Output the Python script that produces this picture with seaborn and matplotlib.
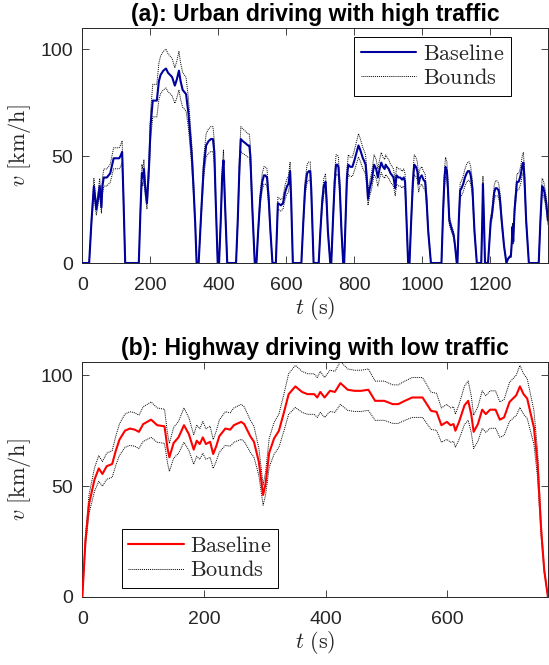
import matplotlib
matplotlib.use("Agg")
import matplotlib.pyplot as plt
import pandas as pd
import seaborn as sns

# ---------------- (a) urban driving ----------------
t_urban = [0, 20, 27, 34, 41, 46, 51, 56, 59, 63, 72, 82, 92, 100, 108, 112, 117, 121, 126,
           166, 171, 175, 178, 181, 185, 190, 196, 201, 207, 219, 225, 230, 238, 246, 252, 258, 264, 268, 272, 278, 284, 289, 295, 300, 305, 312, 317, 322, 327, 332, 336,
           342, 350, 357, 364, 371, 378, 384, 388, 392, 398,
           402, 407, 411, 415, 419, 426,
           452, 457, 462, 466, 472, 480, 487, 491, 494, 500, 507,
           512, 517, 523, 529, 534, 538, 543, 548, 553, 559,
           569, 575, 584, 590, 596, 602, 606, 611, 614, 619,
           644, 650, 655, 661, 666, 670, 673, 677, 680,
           695, 700, 705, 710, 715, 718, 722, 729,
           732, 737, 742, 746, 750, 753, 757, 762, 767,
           770, 775, 778, 782, 788, 794, 800, 807, 812, 817, 821, 825, 828, 833, 837, 840, 845, 850, 858, 864, 869, 874, 879, 884, 889, 892, 896, 901, 906, 911, 915, 918, 920, 924, 930, 935, 940, 945, 949, 952, 958,
           962, 967, 972, 976, 981, 985, 989, 993, 998, 1003, 1008, 1012, 1017, 1025,
           1056, 1061, 1065, 1068, 1072, 1075, 1079, 1084, 1088, 1092, 1096, 1101,
           1103, 1107, 1111, 1115, 1120, 1125, 1130, 1134, 1138, 1142, 1147, 1153, 1160,
           1173, 1176, 1178, 1181, 1184,
           1193, 1197, 1201, 1204, 1208, 1211, 1215, 1219, 1224, 1228, 1233, 1240, 1247,
           1252, 1257, 1260, 1263, 1265, 1267, 1271, 1278, 1283, 1287, 1290, 1294, 1297, 1300, 1305, 1313,
           1342, 1347, 1352, 1356, 1360, 1364, 1369]
v_urban = [0, 0, 20, 36, 25, 30, 36, 26, 36, 40, 40, 42, 49, 49, 49, 50, 52, 30, 0,
           0, 25, 42, 40, 44, 35, 28, 45, 65, 76, 76, 85, 88, 90, 91, 89, 88, 87, 85, 83, 86, 90, 85, 81, 80, 79, 70, 60, 50, 35, 18, 0,
           0, 25, 45, 55, 57, 58, 58, 52, 30, 0,
           0, 20, 40, 48, 30, 0,
           0, 20, 45, 58, 57, 56, 55, 55, 50, 25, 0,
           0, 15, 30, 38, 41, 41, 40, 30, 15, 0,
           0, 28, 27, 28, 33, 36, 37, 43, 30, 0,
           0, 20, 35, 42, 43, 43, 35, 15, 0,
           0, 15, 28, 36, 38, 30, 15, 0,
           0, 20, 38, 46, 46, 45, 35, 15, 0,
           0, 25, 40, 46, 45, 45, 48, 52, 55, 53, 51, 49, 48, 46, 38, 30, 35, 38, 46, 44, 40, 44, 47, 45, 44, 46, 45, 44, 42, 41, 40, 37, 35, 41, 40, 40, 39, 40, 38, 25, 0,
           0, 20, 38, 46, 45, 43, 37, 40, 41, 39, 38, 30, 15, 0,
           0, 25, 40, 45, 43, 35, 20, 17, 15, 13, 8, 0,
           0, 20, 34, 35, 37, 40, 42, 43, 43, 41, 35, 15, 0,
           0, 20, 37, 20, 0,
           0, 10, 20, 22, 28, 33, 35, 35, 34, 30, 20, 8, 0,
           2, 3, 3, 10, 17, 10, 25, 38, 38, 40, 42, 46, 47, 40, 20, 0,
           0, 20, 36, 35, 32, 28, 20]
hi_urban = [0, 0, 22, 39.6, 27.5, 33, 39.6, 28.6, 39.6, 44, 44, 46.2, 53.9, 53.9, 53.9, 55, 57.2, 33, 0,
            0, 27.5, 46.2, 44, 48.4, 38.5, 30.8, 49.5, 71.5, 83.6, 83.6, 93.5, 96.8, 99, 100.1, 97.9, 96.8, 95.7, 93.5, 91.3, 94.6, 99, 93.5, 89.1, 88, 86.9, 77, 66, 55, 38.5, 19.8, 0,
            0, 27.5, 49.5, 60.5, 62.7, 63.8, 63.8, 57.2, 33, 0,
            0, 22, 44, 52.8, 33, 0,
            0, 22, 49.5, 63.8, 62.7, 61.6, 60.5, 60.5, 55, 27.5, 0,
            0, 16.5, 33, 41.8, 45.1, 45.1, 44, 33, 16.5, 0,
            0, 30.8, 29.7, 30.8, 36.3, 39.6, 40.7, 47.3, 33, 0,
            0, 22, 38.5, 46.2, 47.3, 47.3, 38.5, 16.5, 0,
            0, 16.5, 30.8, 39.6, 41.8, 33, 16.5, 0,
            0, 22, 41.8, 50.6, 50.6, 49.5, 38.5, 16.5, 0,
            0, 27.5, 44, 50.6, 49.5, 49.5, 52.8, 57.2, 60.5, 58.3, 56.1, 53.9, 52.8, 50.6, 41.8, 33, 38.5, 41.8, 50.6, 48.4, 44, 48.4, 51.7, 49.5, 48.4, 50.6, 49.5, 48.4, 46.2, 45.1, 44, 40.7, 38.5, 45.1, 44, 44, 42.9, 44, 41.8, 27.5, 0,
            0, 22, 41.8, 50.6, 49.5, 47.3, 40.7, 44, 45.1, 42.9, 41.8, 33, 16.5, 0,
            0, 27.5, 44, 49.5, 47.3, 38.5, 22, 18.7, 16.5, 14.3, 8.8, 0,
            0, 22, 37.4, 38.5, 40.7, 44, 46.2, 47.3, 47.3, 45.1, 38.5, 16.5, 0,
            0, 22, 40.7, 22, 0,
            0, 11, 22, 24.2, 30.8, 36.3, 38.5, 38.5, 37.4, 33, 22, 8.8, 0,
            2.2, 3.3, 3.3, 11, 18.7, 11, 27.5, 41.8, 41.8, 44, 46.2, 50.6, 51.7, 44, 22, 0,
            0, 22, 39.6, 38.5, 35.2, 30.8, 22]
lo_urban = [0, 0, 18, 32.4, 22.5, 27, 32.4, 23.4, 32.4, 36, 36, 37.8, 44.1, 44.1, 44.1, 45, 46.8, 27, 0,
            0, 22.5, 37.8, 36, 39.6, 31.5, 25.2, 40.5, 58.5, 68.4, 68.4, 76.5, 79.2, 81, 81.9, 80.1, 79.2, 78.3, 76.5, 74.7, 77.4, 81, 76.5, 72.9, 72, 71.1, 63, 54, 45, 31.5, 16.2, 0,
            0, 22.5, 40.5, 49.5, 51.3, 52.2, 52.2, 46.8, 27, 0,
            0, 18, 36, 43.2, 27, 0,
            0, 18, 40.5, 52.2, 51.3, 50.4, 49.5, 49.5, 45, 22.5, 0,
            0, 13.5, 27, 34.2, 36.9, 36.9, 36, 27, 13.5, 0,
            0, 25.2, 24.3, 25.2, 29.7, 32.4, 33.3, 38.7, 27, 0,
            0, 18, 31.5, 37.8, 38.7, 38.7, 31.5, 13.5, 0,
            0, 13.5, 25.2, 32.4, 34.2, 27, 13.5, 0,
            0, 18, 34.2, 41.4, 41.4, 40.5, 31.5, 13.5, 0,
            0, 22.5, 36, 41.4, 40.5, 40.5, 43.2, 46.8, 49.5, 47.7, 45.9, 44.1, 43.2, 41.4, 34.2, 27, 31.5, 34.2, 41.4, 39.6, 36, 39.6, 42.3, 40.5, 39.6, 41.4, 40.5, 39.6, 37.8, 36.9, 36, 33.3, 31.5, 36.9, 36, 36, 35.1, 36, 34.2, 22.5, 0,
            0, 18, 34.2, 41.4, 40.5, 38.7, 33.3, 36, 36.9, 35.1, 34.2, 27, 13.5, 0,
            0, 22.5, 36, 40.5, 38.7, 31.5, 18, 15.3, 13.5, 11.7, 7.2, 0,
            0, 18, 30.6, 31.5, 33.3, 36, 37.8, 38.7, 38.7, 36.9, 31.5, 13.5, 0,
            0, 18, 33.3, 18, 0,
            0, 9, 18, 19.8, 25.2, 29.7, 31.5, 31.5, 30.6, 27, 18, 7.2, 0,
            1.8, 2.7, 2.7, 9, 15.3, 9, 22.5, 34.2, 34.2, 36, 37.8, 41.4, 42.3, 36, 18, 0,
            0, 18, 32.4, 31.5, 28.8, 25.2, 18]

# ---------------- (b) highway driving ----------------
t_hwy = [0, 5, 11, 20, 27, 33, 40, 49, 55, 61, 70, 78, 86, 93, 100, 113, 123, 135, 140, 143,
         150, 158, 167, 175, 183, 188, 193, 198, 203, 210, 215, 220, 225, 235, 243, 249, 261, 266, 276, 282,
         290, 297, 301, 307, 315, 323, 331, 339, 350, 361, 370, 381, 386, 391, 398, 407, 415, 424, 436, 447,
         458, 470, 481, 496, 510, 519, 530, 542, 559, 573, 582, 590, 599, 605, 610, 613, 619, 628, 634, 639,
         643, 650, 657, 663, 670, 679, 686, 693, 702, 713, 719, 725, 731, 736, 742, 748, 754, 759, 765]
v_hwy = [0, 25, 42, 53, 58, 55.5, 59, 60, 66, 71, 75, 76, 75.5, 74.5, 78, 80, 77.5, 77, 67, 63,
         69.5, 72, 77.5, 73.5, 66.5, 70.5, 69, 72, 69, 70, 64.5, 68, 72.5, 76, 75.5, 77.5, 79, 78, 72.5, 70,
         61, 46, 51, 65, 71.5, 75, 83, 91.5, 95, 92.5, 91.5, 91.5, 90, 92.5, 90, 93, 92.5, 96.5, 93.5, 93,
         93, 93.5, 88.5, 88.5, 87, 87, 88.5, 90, 90, 84, 83.5, 77.5, 79, 77.5, 78, 75, 79, 86.5, 88.5, 82.5,
         74.5, 78, 84.5, 82.5, 84.5, 84.5, 80, 81, 88, 91, 95, 91.5, 89.5, 83.5, 76.5, 60, 30, 12, 0]
hi_hwy = [0, 27.5, 46.2, 58.3, 63.8, 61.1, 64.9, 66, 72.6, 78.1, 82.5, 83.6, 83.1, 82, 85.8, 88, 85.3, 84.7, 73.7, 69.3,
          76.5, 79.2, 85.3, 80.9, 73.2, 77.6, 75.9, 79.2, 75.9, 77, 71, 74.8, 79.8, 83.6, 83.1, 85.3, 86.9, 85.8, 79.8, 77,
          67.1, 50.6, 56.1, 71.5, 78.7, 82.5, 91.3, 100.7, 104.5, 101.8, 100.7, 100.7, 99, 101.8, 99, 102.3, 101.8, 106.2, 102.9, 102.3,
          102.3, 102.9, 97.4, 97.4, 95.7, 95.7, 97.4, 99, 99, 92.4, 91.9, 85.3, 86.9, 85.3, 85.8, 82.5, 86.9, 95.2, 97.4, 90.8,
          82, 85.8, 93, 90.8, 93, 93, 88, 89.1, 96.8, 100.1, 104.5, 100.7, 98.5, 91.9, 84.2, 66, 33, 13.2, 0]
lo_hwy = [0, 22.5, 37.8, 47.7, 52.2, 50, 53.1, 54, 59.4, 63.9, 67.5, 68.4, 68, 67, 70.2, 72, 69.8, 69.3, 60.3, 56.7,
          62.6, 64.8, 69.8, 66.2, 59.9, 63.5, 62.1, 64.8, 62.1, 63, 58, 61.2, 65.3, 68.4, 68, 69.8, 71.1, 70.2, 65.3, 63,
          54.9, 41.4, 45.9, 58.5, 64.4, 67.5, 74.7, 82.4, 85.5, 83.3, 82.4, 82.4, 81, 83.3, 81, 83.7, 83.3, 86.9, 84.2, 83.7,
          83.7, 84.2, 79.7, 79.7, 78.3, 78.3, 79.7, 81, 81, 75.6, 75.2, 69.8, 71.1, 69.8, 70.2, 67.5, 71.1, 77.9, 79.7, 74.3,
          67, 70.2, 76.1, 74.3, 76.1, 76.1, 72, 72.9, 79.2, 81.9, 85.5, 82.4, 80.6, 75.2, 68.9, 54, 27, 10.8, 0]

titles = ["(a): Urban driving with high traffic", "(b): Highway driving with low traffic"]
legend_labels = [r"$\mathrm{Baseline}$", r"$\mathrm{Bounds}$"]
urban_xticks = [0, 200, 400, 600, 800, 1000, 1200]
hwy_xticks = [0, 200, 400, 600]
yticks = [0, 50, 100]

sns.set_theme(style="ticks")
plt.rcParams["font.family"] = ["Liberation Sans", "DejaVu Sans"]
plt.rcParams["mathtext.fontset"] = "cm"

df_u = pd.DataFrame({"t": t_urban, "v": v_urban, "hi": hi_urban, "lo": lo_urban})
df_h = pd.DataFrame({"t": t_hwy, "v": v_hwy, "hi": hi_hwy, "lo": lo_hwy})

fig = plt.figure(figsize=(5.49, 6.65), dpi=100)
ax1 = fig.add_axes([0.15, 0.6045, 0.848, 0.3535])
ax2 = fig.add_axes([0.15, 0.1023, 0.848, 0.3533])

grey = "#262626"

def draw(ax, df, color, title, xlim, ylim, xticks, leg_loc, leg_anchor):
    sns.lineplot(data=df, x="t", y="v", ax=ax, color=color, lw=1.5,
                 estimator=None, sort=False, label=legend_labels[0], zorder=3)
    sns.lineplot(data=df, x="t", y="hi", ax=ax, color="black", lw=0.7,
                 linestyle=(0, (1, 1)), estimator=None, sort=False,
                 label=legend_labels[1], zorder=2)
    sns.lineplot(data=df, x="t", y="lo", ax=ax, color="black", lw=0.7,
                 linestyle=(0, (1, 1)), estimator=None, sort=False,
                 label="_nolegend_", zorder=2)
    ax.set_xlim(*xlim)
    ax.set_ylim(*ylim)
    ax.set_xticks(xticks)
    ax.set_yticks(yticks)
    ax.set_title(title, fontsize=16.6, fontweight="bold", color="black", pad=5)
    ax.set_xlabel(r"$t\ \mathrm{(s)}$", fontsize=16, color=grey, labelpad=1)
    ax.set_ylabel(r"$v\ \mathrm{[km/h]}$", fontsize=16, color=grey, labelpad=5)
    ax.tick_params(axis="both", direction="in", top=True, right=True, length=5,
                   width=0.6, colors=grey, labelsize=14)
    ax.tick_params(axis="x", pad=10)
    ax.tick_params(axis="y", pad=7)
    for s in ax.spines.values():
        s.set_visible(True)
        s.set_color(grey)
        s.set_linewidth(0.7)
    leg = ax.legend(loc=leg_loc, bbox_to_anchor=leg_anchor, borderaxespad=0,
                    fontsize=16, frameon=True, fancybox=False, framealpha=1,
                    edgecolor="black", handlelength=2.5, handletextpad=0.3,
                    labelspacing=0.15, borderpad=0.3)
    leg.get_frame().set_linewidth(0.7)

draw(ax1, df_u, "#00009C", titles[0], (0, 1369), (0, 110), urban_xticks,
     "upper right", (0.9205, 0.9617))
draw(ax2, df_h, "#FF0000", titles[1], (0, 765), (0, 106), hwy_xticks,
     "lower left", (0.0842, 0.0383))

fig.savefig("out.png", dpi=100)
